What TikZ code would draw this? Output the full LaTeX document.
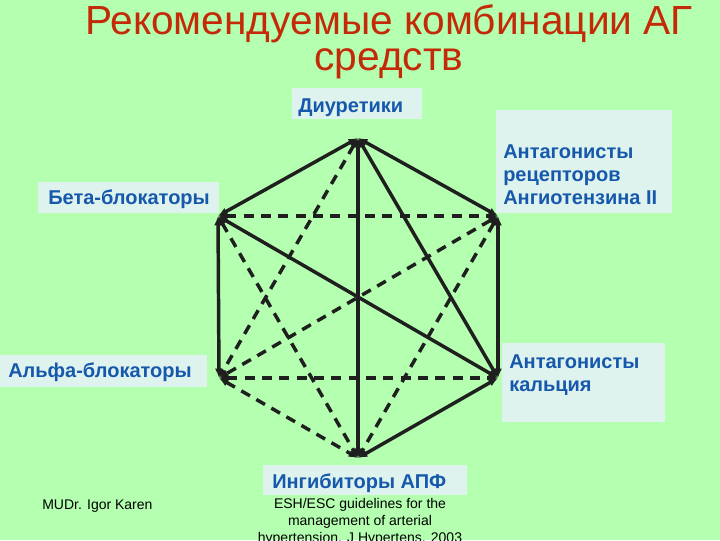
\documentclass[tikz,border=0pt]{standalone}
\usepackage{fontspec}
\setmainfont{Liberation Sans}
\usetikzlibrary{arrows.meta}

\definecolor{slidebg}{RGB}{180,255,176}
\definecolor{boxfill}{RGB}{222,242,238}
\definecolor{lblblue}{RGB}{22,88,172}
\definecolor{titlered}{RGB}{196,42,8}

\begin{document}
\begin{tikzpicture}[x=0.75pt,y=-0.75pt,
    link/.style={line width=2.6pt,draw=black!88,{Latex[length=7pt,width=6pt]}-{Latex[length=7pt,width=6pt]}},
    duallink/.style={link,dash pattern=on 7.5pt off 5.5pt}]
    \tikzset{every node/.style={inner sep=0pt}}
    \tikzset{lbl/.style={text=lblblue,font=\fontsize{15}{17.25}\selectfont\bfseries}}

    \clip (0,0) rectangle (720,540);
    \fill[slidebg] (0,0) rectangle (720,540);

    % title
    \node[anchor=north,align=center,text=titlered,font=\fontsize{30.5}{27}\selectfont] (title) at (389,4) {Рекомендуемые комбинации АГ\\средств};

    % label boxes
    \fill[boxfill] (292,88) rectangle (422,119);
    \fill[boxfill] (496,110) rectangle (672,213);
    \fill[boxfill] (38,182) rectangle (219,213);
    \fill[boxfill] (0,355) rectangle (207,387);
    \fill[boxfill] (502,343) rectangle (665,422);
    \fill[boxfill] (263,465) rectangle (467,495);

    \node[lbl,anchor=base west] (diutext) at (298,112) {Диуретики};
    \node[lbl,anchor=west,align=left] (arbtext) at (503,175) {Антагонисты\\рецепторов\\Ангиотензина II};
    \node[lbl,anchor=base west] (betatext) at (48,204) {Бета-блокаторы};
    \node[lbl,anchor=base west] (alphatext) at (8,377) {Альфа-блокаторы};
    \node[lbl,anchor=west,align=left] (catext) at (509,375) {Антагонисты\\кальция};
    \node[lbl,anchor=base west] (acetext) at (272,488) {Ингибиторы АПФ};

    % hexagon corners
    \coordinate (diu) at (358,138);
    \coordinate (arb) at (498,216);
    \coordinate (ca) at (498,378);
    \coordinate (ace) at (358,458);
    \coordinate (alpha) at (219,378);
    \coordinate (beta) at (218,216);

    % solid combinations
    \draw[link] (diu) -- (beta);
    \draw[link] (diu) -- (arb);
    \draw[link] (beta) -- (alpha);
    \draw[link] (arb) -- (ca);
    \draw[link] (ca) -- (ace);
    \draw[link] (diu) -- (ace);
    \draw[link] (diu) -- (ca);
    \draw[link] (beta) -- (ca);

    % dashed combinations
    \draw[duallink] (beta) -- (arb);
    \draw[duallink] (alpha) -- (ca);
    \draw[duallink] (alpha) -- (ace);
    \draw[duallink] (diu) -- (alpha);
    \draw[duallink] (beta) -- (ace);
    \draw[duallink] (arb) -- (alpha);
    \draw[duallink] (arb) -- (ace);

    % footer
    \node[anchor=base west,font=\fontsize{10.5}{12.75}\selectfont] (author) at (42,509) {MUDr. Igor Karen};
    \node[anchor=north,align=center,font=\fontsize{10.5}{12.75}\selectfont] (source) at (360,498) {ESH/ESC guidelines for the\\management of arterial\\hypertension. J Hypertens. 2003};
\end{tikzpicture}
\end{document}
